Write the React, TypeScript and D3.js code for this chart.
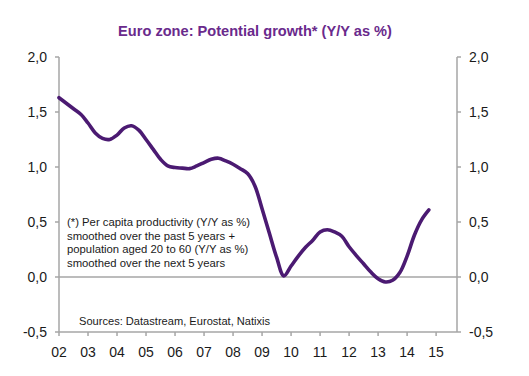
import React from "react";
import * as d3 from "d3";

const years: number[] = [
  2002.0, 2002.25, 2002.5, 2002.75, 2003.0, 2003.25, 2003.5, 2003.75,
  2004.0, 2004.25, 2004.5, 2004.75, 2005.0, 2005.25, 2005.5, 2005.75,
  2006.0, 2006.25, 2006.5, 2006.75, 2007.0, 2007.25, 2007.5, 2007.75,
  2008.0, 2008.25, 2008.5, 2008.75, 2009.0, 2009.25, 2009.5, 2009.75,
  2010.0, 2010.25, 2010.5, 2010.75, 2011.0, 2011.25, 2011.5, 2011.75,
  2012.0, 2012.25, 2012.5, 2012.75, 2013.0, 2013.25, 2013.5, 2013.75,
  2014.0, 2014.25, 2014.5, 2014.75,
];
const growth: number[] = [
  1.63, 1.58, 1.53, 1.48, 1.4, 1.31, 1.26, 1.25,
  1.29, 1.355, 1.375, 1.335, 1.25, 1.16, 1.07, 1.01,
  0.995, 0.99, 0.985, 1.01, 1.04, 1.07, 1.08, 1.055,
  1.025, 0.985, 0.94, 0.83, 0.62, 0.4, 0.18, 0.01,
  0.1, 0.19, 0.27, 0.335, 0.41, 0.43, 0.41, 0.37,
  0.275, 0.195, 0.12, 0.045, -0.015, -0.045, -0.03, 0.04,
  0.19, 0.38, 0.52, 0.61,
];
const xTickYears: number[] = [2002, 2003, 2004, 2005, 2006, 2007, 2008, 2009, 2010, 2011, 2012, 2013, 2014, 2015];
const xTickLabels: string[] = ["02", "03", "04", "05", "06", "07", "08", "09", "10", "11", "12", "13", "14", "15"];
const yTicks: number[] = [2.0, 1.5, 1.0, 0.5, 0.0, -0.5];
const yTickLabels: string[] = ["2,0", "1,5", "1,0", "0,5", "0,0", "-0,5"];
const title = "Euro zone: Potential growth* (Y/Y as %)";
const noteLines: string[] = [
  "(*) Per capita productivity (Y/Y as %)",
  "smoothed over the past 5 years +",
  "population aged 20 to 60 (Y/Y as %)",
  "smoothed over the next 5 years",
];
const sourceText = "Sources: Datastream, Eurostat, Natixis";

export default function App() {
  const W = 529;
  const H = 376;
  const left = 59;
  const right = 457;
  const top = 57;
  const bottom = 332;
  const x = d3.scaleLinear().domain([2002, 2015.72]).range([left, right]);
  const y = d3.scaleLinear().domain([-0.5, 2.0]).range([bottom, top]);
  const line = d3
    .line<number>()
    .x((_, i) => x(years[i]))
    .y((d) => y(d))
    .curve(d3.curveCatmullRom.alpha(0.5));
  const axisColor = "#a6a6a6";
  const font = "'Liberation Sans', Arial, sans-serif";
  return (
    <svg width={W} height={H} style={{ position: "absolute", left: 0, top: 0, background: "#fff" }} fontFamily={font}>
      <rect x={0} y={0} width={W} height={H} fill="#fff" />
      <text x={255} y={36} textAnchor="middle" fontWeight="bold" fontSize={14.6} fill="#6a2a8c">
        {title}
      </text>
      {/* axes */}
      <line x1={left} x2={left} y1={top} y2={bottom} stroke={axisColor} strokeWidth={1.5} />
      <line x1={right} x2={right} y1={top} y2={bottom} stroke={axisColor} strokeWidth={1.5} />
      <line x1={left} x2={right} y1={bottom} y2={bottom} stroke={axisColor} strokeWidth={1.5} />
      <line x1={left} x2={right} y1={y(0)} y2={y(0)} stroke={axisColor} strokeWidth={1.5} />
      {yTicks.map((t, i) => (
        <g key={"yt" + i}>
          <line x1={left - 4} x2={left} y1={y(t)} y2={y(t)} stroke={axisColor} strokeWidth={1.5} />
          <line x1={right} x2={right + 4} y1={y(t)} y2={y(t)} stroke={axisColor} strokeWidth={1.5} />
          <text x={47} y={y(t)} dy="0.36em" textAnchor="end" fontSize={14} fill="#1a1a1a">
            {yTickLabels[i]}
          </text>
          <text x={469} y={y(t)} dy="0.36em" textAnchor="start" fontSize={14} fill="#1a1a1a">
            {yTickLabels[i]}
          </text>
        </g>
      ))}
      {xTickYears.map((t, i) => (
        <g key={"xt" + i}>
          <line x1={x(t)} x2={x(t)} y1={bottom} y2={bottom + 4} stroke={axisColor} strokeWidth={1.5} />
          <text x={x(t)} y={357} textAnchor="middle" fontSize={14} fill="#1a1a1a">
            {xTickLabels[i]}
          </text>
        </g>
      ))}
      {noteLines.map((s, i) => (
        <text key={"n" + i} x={67} y={226 + i * 13.5} fontSize={11.3} fill="#1a1a1a">
          {s}
        </text>
      ))}
      <text x={79} y={325} fontSize={11.1} fill="#1a1a1a">
        {sourceText}
      </text>
      <path d={line(growth) || ""} fill="none" stroke="#4b1a72" strokeWidth={3.6} strokeLinejoin="round" strokeLinecap="round" />
    </svg>
  );
}
